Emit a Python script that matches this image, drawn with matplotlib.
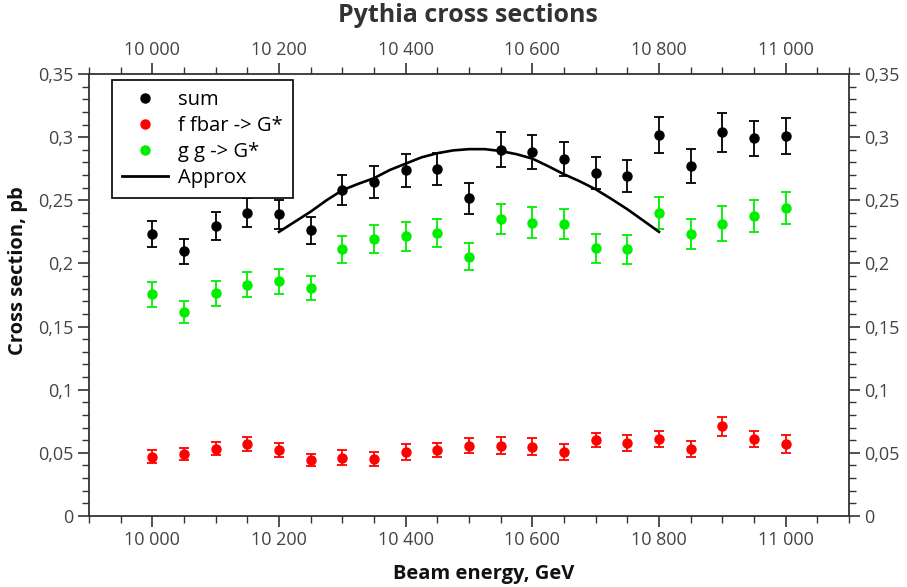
import matplotlib
matplotlib.use("Agg")
import matplotlib.pyplot as plt
from matplotlib.ticker import MultipleLocator, FuncFormatter
from matplotlib.lines import Line2D

plt.rcParams['font.family'] = ['Open Sans', 'DejaVu Sans']

energy = [10000, 10050, 10100, 10150, 10200, 10250, 10300, 10350, 10400, 10450,
          10500, 10550, 10600, 10650, 10700, 10750, 10800, 10850, 10900, 10950, 11000]

sum_vals = [0.2230, 0.2095, 0.2296, 0.2402, 0.2391, 0.2262, 0.2579, 0.2645, 0.2738, 0.2746,
            0.2516, 0.2902, 0.2879, 0.2825, 0.2717, 0.2693, 0.3016, 0.2772, 0.3037, 0.2990, 0.3008]
sum_err = [0.0103, 0.0099, 0.0111, 0.0113, 0.0115, 0.0107, 0.0119, 0.0123, 0.0129, 0.0125,
           0.0121, 0.0139, 0.0135, 0.0135, 0.0127, 0.0129, 0.0140, 0.0135, 0.0153, 0.0140, 0.0140]

ff_vals = [0.0471, 0.0489, 0.0532, 0.0569, 0.0524, 0.0442, 0.0463, 0.0452, 0.0505, 0.0524,
           0.0558, 0.0558, 0.0550, 0.0505, 0.0603, 0.0577, 0.0611, 0.0532, 0.0709, 0.0611, 0.0569]
ff_err = [0.0048, 0.0048, 0.0052, 0.0058, 0.0053, 0.0050, 0.0057, 0.0057, 0.0062, 0.0054,
          0.0061, 0.0066, 0.0065, 0.0062, 0.0058, 0.0062, 0.0061, 0.0061, 0.0075, 0.0061, 0.0069]

gg_vals = [0.1754, 0.1617, 0.1762, 0.1833, 0.1860, 0.1807, 0.2111, 0.2196, 0.2217, 0.2243,
           0.2053, 0.2349, 0.2323, 0.2315, 0.2119, 0.2111, 0.2402, 0.2235, 0.2315, 0.2376, 0.2437]
gg_err = [0.0102, 0.0086, 0.0099, 0.0098, 0.0099, 0.0095, 0.0105, 0.0111, 0.0115, 0.0110,
          0.0106, 0.0119, 0.0123, 0.0119, 0.0116, 0.0112, 0.0127, 0.0119, 0.0138, 0.0128, 0.0128]

approx_x = [10200, 10225, 10250, 10275, 10300, 10325, 10350, 10375, 10400, 10425, 10450, 10475,
            10500, 10525, 10550, 10575, 10600, 10625, 10650, 10675, 10700, 10725, 10750, 10775, 10800]
approx_y = [0.2250, 0.2330, 0.2410, 0.2500, 0.2580, 0.2630, 0.2675, 0.2740, 0.2790, 0.2840, 0.2873, 0.2895,
            0.2905, 0.2905, 0.2890, 0.2865, 0.2830, 0.2770, 0.2706, 0.2650, 0.2587, 0.2510, 0.2429, 0.2340, 0.2250]

title = "Pythia cross sections"
xlabel = "Beam energy, GeV"
ylabel = "Cross section, pb"
labels = ["sum", "f fbar -> G*", "g g -> G*", "Approx"]

W, H = 907, 587
fig = plt.figure(figsize=(W / 100, H / 100), dpi=100)
ax = fig.add_axes([89 / W, 1 - 516 / H, (849 - 89) / W, (516 - 74) / H])

green = '#00ee00'
ekw = dict(fmt='o', markersize=6.5, capsize=3.5, elinewidth=1.3, capthick=1.3, zorder=3)
ax.errorbar(energy, sum_vals, yerr=sum_err, color='black', **ekw)
ax.errorbar(energy, ff_vals, yerr=ff_err, color='#ff0000', **ekw)
ax.errorbar(energy, gg_vals, yerr=gg_err, color=green, **ekw)
ax.plot(approx_x, approx_y, color='black', lw=1.9, zorder=4)

ax.set_xlim(9900, 11100)
ax.set_ylim(0, 0.35)
ax.xaxis.set_major_locator(MultipleLocator(200))
ax.xaxis.set_minor_locator(MultipleLocator(50))
ax.yaxis.set_major_locator(MultipleLocator(0.05))
ax.yaxis.set_minor_locator(MultipleLocator(0.01))

def xfmt(v, pos):
    return f"{int(round(v)):,}".replace(",", " ")

def yfmt(v, pos):
    if abs(v) < 1e-9:
        return "0"
    s = f"{v:.2f}".rstrip('0').rstrip('.')
    return s.replace('.', ',')

ax.xaxis.set_major_formatter(FuncFormatter(xfmt))
ax.yaxis.set_major_formatter(FuncFormatter(yfmt))

spine_c = '#333333'
for s in ax.spines.values():
    s.set_color(spine_c)
    s.set_linewidth(1.3)
ax.tick_params(which='both', direction='out', top=True, right=True, labeltop=True, labelright=True,
               color=spine_c, labelcolor='#444444', labelsize=13)
ax.tick_params(which='major', length=8, width=1.2, pad=3)
ax.tick_params(which='minor', length=5, width=1.0)

fig.text(468 / W, 1 - 15 / H, title, fontsize=18, fontweight='bold', color='#333333',
         ha='center', va='center')
fig.text(484 / W, 1 - 574 / H, xlabel, fontsize=14.5, fontweight='bold', color='#111111',
         ha='center', va='center')
fig.text(18 / W, 1 - 271 / H, ylabel, fontsize=14.5, fontweight='bold', color='#111111',
         ha='center', va='center', rotation=90)

handles = [
    Line2D([], [], ls='none', marker='o', color='black', markersize=6.5),
    Line2D([], [], ls='none', marker='o', color='#ff0000', markersize=6.5),
    Line2D([], [], ls='none', marker='o', color=green, markersize=6.5),
    Line2D([], [], color='black', lw=2),
]
leg = ax.legend(handles, labels, loc='upper left', bbox_to_anchor=(23 / 760, 1 - 6 / 442),
                fontsize=14.5, frameon=True, fancybox=False, edgecolor='black', framealpha=1,
                handlelength=2.3, handletextpad=0.5, borderpad=0.5, labelspacing=0.3,
                borderaxespad=0)
leg.get_frame().set_linewidth(1.2)

fig.savefig("out.png", dpi=100)
